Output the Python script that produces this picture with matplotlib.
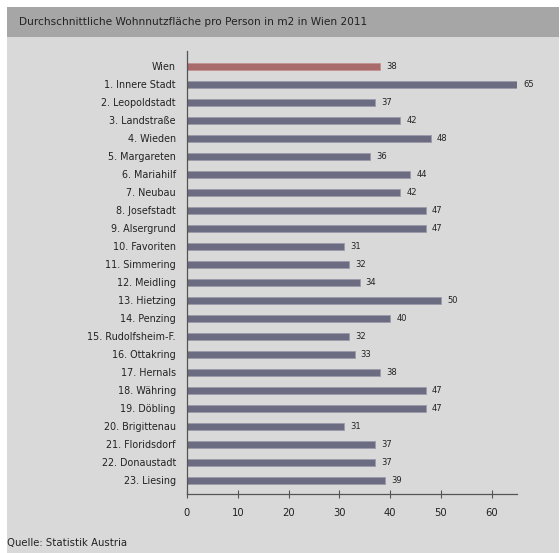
import matplotlib.pyplot as plt
from matplotlib.patches import Rectangle

districts = ['Wien', '1. Innere Stadt', '2. Leopoldstadt', '3. Landstraße', '4. Wieden',
             '5. Margareten', '6. Mariahilf', '7. Neubau', '8. Josefstadt', '9. Alsergrund',
             '10. Favoriten', '11. Simmering', '12. Meidling', '13. Hietzing', '14. Penzing',
             '15. Rudolfsheim-F.', '16. Ottakring', '17. Hernals', '18. Währing', '19. Döbling',
             '20. Brigittenau', '21. Floridsdorf', '22. Donaustadt', '23. Liesing']
flaeche = [38, 65, 37, 42, 48, 36, 44, 42, 47, 47, 31, 32, 34, 50, 40,
           32, 33, 38, 47, 47, 31, 37, 37, 39]
xticks = [0, 10, 20, 30, 40, 50, 60]

plt.rcParams['font.family'] = 'DejaVu Sans'

fig = plt.figure(figsize=(5.6, 5.53), dpi=100)
fig.patch.set_facecolor('white')

# panel backgrounds
fig.patches.append(Rectangle((7/560, 0), 552/560, (553-37)/553, transform=fig.transFigure,
                             facecolor='#d9d9d9', edgecolor='none', zorder=-2))
fig.patches.append(Rectangle((7/560, (553-37)/553), 552/560, 30/553, transform=fig.transFigure,
                             facecolor='#a6a6a6', edgecolor='none', zorder=-2))
fig.text(19/560, (553-22)/553, 'Durchschnittliche Wohnnutzfläche pro Person in m2 in Wien 2011',
         fontsize=7.55, color='#222222', va='center', ha='left')
fig.text(7/560, (553-543)/553, 'Quelle: Statistik Austria', fontsize=7.3,
         color='#222222', va='center', ha='left')

ax = fig.add_axes([187/560, 59/553, 330/560, 443/553])
ax.set_facecolor('none')

colors = ['#a86a6a'] + ['#6b6b82'] * (len(flaeche) - 1)
edges = ['#c49090'] + ['#9a9aaa'] * (len(flaeche) - 1)
y = range(len(districts))
ax.barh(y, flaeche, height=0.34, color=colors, edgecolor=edges, linewidth=0.6)
for i, v in enumerate(flaeche):
    ax.text(v + 1.2, i, str(v), va='center', ha='left', fontsize=6, color='#222222')

ax.set_xlim(0, 65)
ax.set_ylim(23.75, -0.86)
ax.set_yticks(list(y))
ax.set_yticklabels(districts, fontsize=6.9, color='#222222')
ax.set_xticks(xticks)
ax.set_xticklabels([str(t) for t in xticks], fontsize=7.2, color='#222222')
ax.tick_params(axis='y', length=0, pad=8)
ax.tick_params(axis='x', direction='inout', length=6, width=0.8, color='#555555', pad=7)
for s in ['top', 'right']:
    ax.spines[s].set_visible(False)
for s in ['left', 'bottom']:
    ax.spines[s].set_color('#555555')
    ax.spines[s].set_linewidth(0.9)

fig.savefig('out.png', dpi=100)
